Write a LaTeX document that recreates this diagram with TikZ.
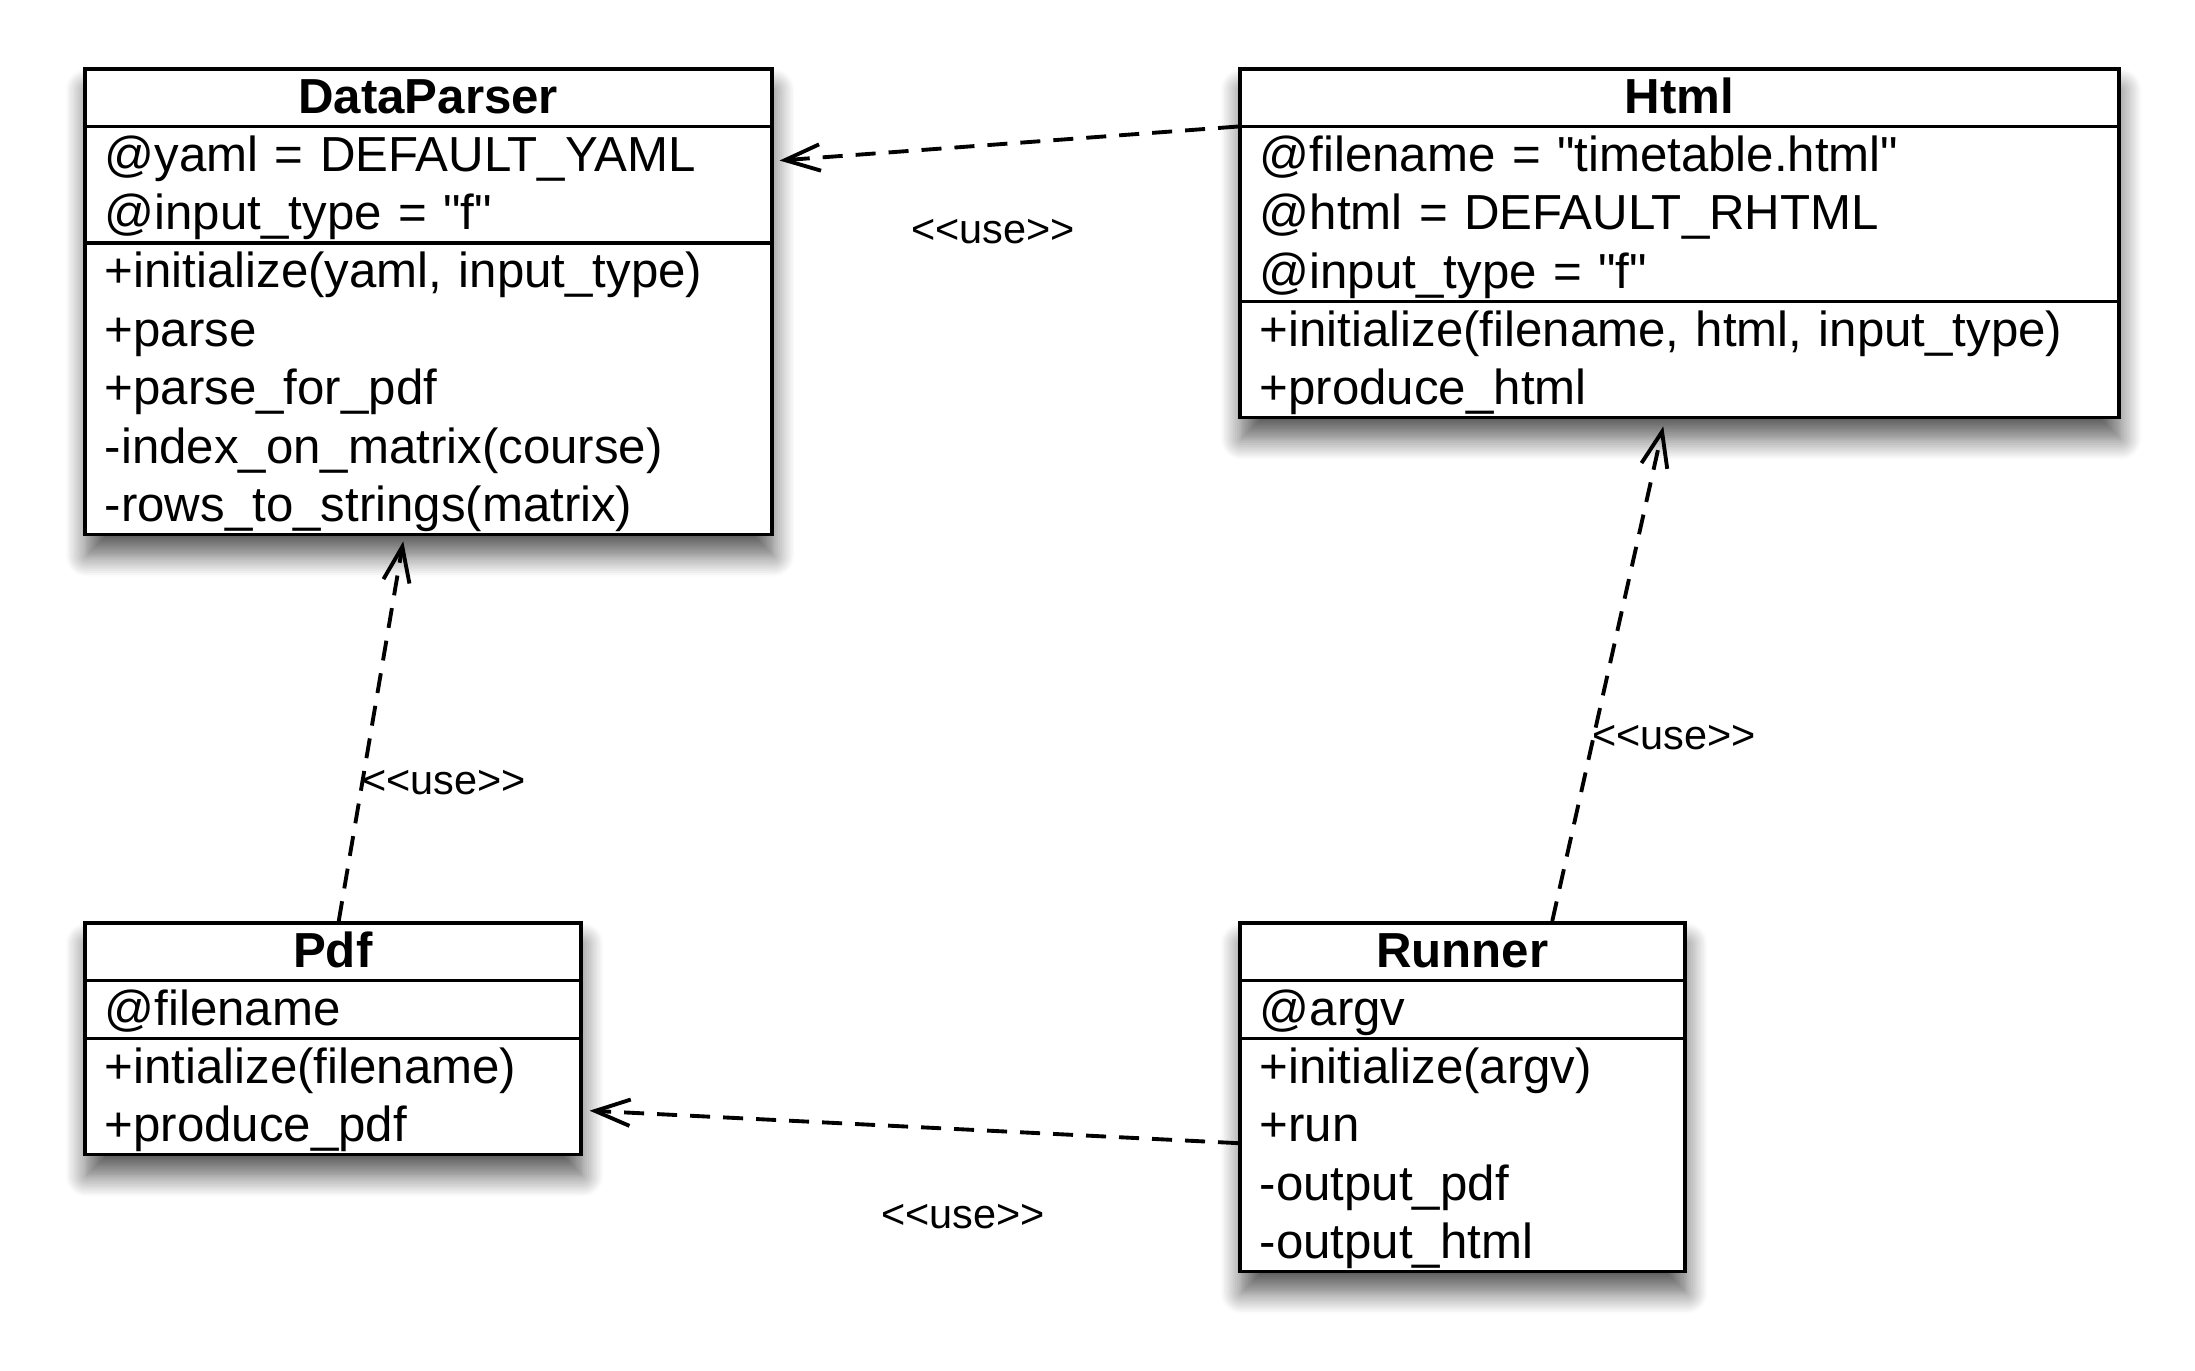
\documentclass[tikz,border=0pt]{standalone}
\usepackage{fontspec}
\setmainfont{Liberation Sans}[Ligatures=TeXOff]
\usepackage{tikz}
\usetikzlibrary{shapes.multipart,arrows.meta,shadows.blur}

\newcommand{\rowstrut}{\rule[-3.8pt]{0pt}{16.64pt}}
\newcommand{\classname}[1]{\hbox to\hsize{\hfil\bfseries\rowstrut #1\hfil}}

\tikzset{
    umlclass/.style={draw, line width=1pt, fill=white, rectangle split, rectangle split parts=3,
        anchor=north west, inner xsep=0.2cm, inner ysep=-0.6pt, align=left,
        font=\fontsize{14}{16.64}\selectfont,
        blur shadow={shadow xshift=0.5pt, shadow yshift=-6pt, shadow blur radius=6pt,
            shadow blur steps=12, shadow opacity=65}},
    usedep/.style={line width=1.1pt, dash pattern=on 5.7pt off 3.7pt,
        -{Straight Barb[length=10pt, width=7.5pt]}},
    uselabel/.style={font=\fontsize{11.8}{14}\selectfont, inner sep=0pt}
}

\begin{document}
\begin{tikzpicture}[x=0.1mm, y=-0.1mm]
        \useasboundingbox (0,0) rectangle (2195,1370);

        \node[umlclass, text width=6.47cm] (parser) at (83,67) {\classname{DataParser}
            \nodepart{second}\rowstrut @yaml = DEFAULT\_YAML\\\rowstrut @input\_type = "f"
            \nodepart{third}\rowstrut +initialize(yaml, input\_type)\\\rowstrut +parse\\\rowstrut +parse\_for\_pdf\\\rowstrut -index\_on\_matrix(course)\\\rowstrut -rows\_to\_strings(matrix)};
        \node[umlclass, text width=8.39cm] (html) at (1238,67) {\classname{Html}
            \nodepart{second}\rowstrut @filename = "timetable.html"\\\rowstrut @html = DEFAULT\_RHTML\\\rowstrut @input\_type = "f"
            \nodepart{third}\rowstrut +initialize(filename, html, input\_type)\\\rowstrut +produce\_html};
        \node[umlclass, text width=4.56cm] (pdf) at (83,921) {\classname{Pdf}
            \nodepart{second}\rowstrut @filename
            \nodepart{third}\rowstrut +intialize(filename)\\\rowstrut +produce\_pdf};
        \node[umlclass, text width=4.05cm] (runner) at (1238,921) {\classname{Runner}
            \nodepart{second}\rowstrut @argv
            \nodepart{third}\rowstrut +initialize(argv)\\\rowstrut +run\\\rowstrut -output\_pdf\\\rowstrut -output\_html};

        % dependencies
        \draw[usedep] (html.text split west) -- ([shift={(6,34)}]parser.text split east);
        \draw[usedep] ([xshift=0.06cm]pdf.north) -- ([shift={(-25,5)}]parser.south);
        \draw[usedep] ([shift={(0,46)}]runner.west) -- ([shift={(7,72)}]pdf.east);
        \draw[usedep] ([xshift=0.9cm]runner.north) -- ([shift={(-16,7)}]html.south);

        \node[uselabel] (usetop) at (993,232) {<<use>>};
        \node[uselabel] (useleft) at (444,783) {<<use>>};
        \node[uselabel] (usebottom) at (963,1217) {<<use>>};
        \node[uselabel] (useright) at (1674,738) {<<use>>};
    \end{tikzpicture}
\end{document}
